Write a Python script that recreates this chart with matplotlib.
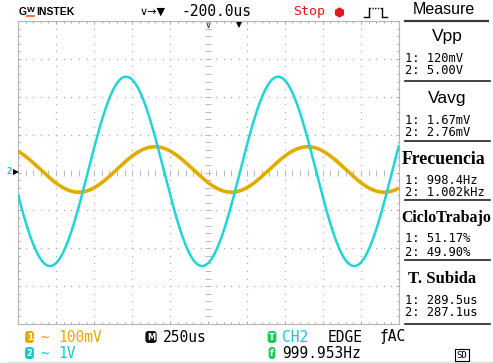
import numpy as np
import matplotlib
matplotlib.use("Agg")
import matplotlib.pyplot as plt

W, H, DPI = 493, 363, 100

# ---- scope settings ----
ch1_volts_div = 0.1        # V/div
ch2_volts_div = 1.0        # V/div
time_div_us = 250.0        # us/div
h_pos_label = "-200.0us"
trig_pos_div = 0.8         # trigger marker position (div right of centre)

# ---- measured waveforms ----
ch1_vpp = 0.120            # V
ch2_vpp = 5.00             # V
ch1_freq = 998.4           # Hz
ch2_freq = 1002.0          # Hz
ch1_peak_us = -351.0       # time of a CH1 maximum, relative to screen centre
ch2_peak_us = -541.0       # time of a CH2 maximum, relative to screen centre
ch1_offset_div = 0.08
ch2_offset_div = 0.03

# ---- measurement panel ----
meas_titles = ["Vpp", "Vavg", "Frecuencia", "CicloTrabajo", "T. Subida"]
meas_ch1 = ["120mV", "1.67mV", "998.4Hz", "51.17%", "289.5us"]
meas_ch2 = ["5.00V", "2.76mV", "1.002kHz", "49.90%", "287.1us"]

YEL = "#e2ab00"
CYN = "#1fd5d5"
CYN_TXT = "#1cc3cf"
GRN = "#22c85a"
GRID = "#ababab"
MONO = "DejaVu Sans Mono"

fig = plt.figure(figsize=(W / DPI, H / DPI), dpi=DPI, facecolor="white")

# ---------------- waveform screen ----------------
ax = fig.add_axes([18 / W, 1 - 324 / H, 381 / W, 303 / H])
ax.set_facecolor("none")
ax.set_xlim(-5, 5)
ax.set_ylim(-4, 4)
for s in ax.spines.values():
    s.set_color("#b4b4b4")
    s.set_linewidth(0.8)
ax.set_xticks(np.arange(-5, 6, 1))
ax.set_yticks(np.arange(-4, 5, 1))
ax.set_xticks(np.arange(-5, 5.01, 0.2), minor=True)
ax.set_yticks(np.arange(-4, 4.01, 0.2), minor=True)
ax.tick_params(which="both", direction="in", top=True, right=True,
               labelbottom=False, labelleft=False, color=GRID, width=0.8)
ax.tick_params(which="major", length=2.5)
ax.tick_params(which="minor", length=1.5)

steps_x = np.arange(-5, 5.01, 0.2)
steps_y = np.arange(-4, 4.01, 0.2)
for gx in range(-4, 5):
    if gx == 0:
        continue
    ax.plot(np.full_like(steps_y, gx), steps_y, ls="none", marker="s",
            ms=0.9, mew=0, color=GRID, zorder=1)
for gy in range(-3, 4):
    if gy == 0:
        continue
    ax.plot(steps_x, np.full_like(steps_x, gy), ls="none", marker="s",
            ms=0.9, mew=0, color=GRID, zorder=1)
# centre cross with graduations
ax.plot(np.zeros_like(steps_y), steps_y, ls="none", marker="_", ms=4.2,
        mew=0.7, color="#b8b8b8", zorder=1)
ax.plot(steps_x, np.zeros_like(steps_x), ls="none", marker="|", ms=4.2,
        mew=0.7, color="#b8b8b8", zorder=1)

t_div = np.linspace(-5, 5, 3000)
t_s = t_div * time_div_us * 1e-6
ch1 = (ch1_vpp / 2) * np.cos(2 * np.pi * ch1_freq * (t_s - ch1_peak_us * 1e-6))
ch2 = (ch2_vpp / 2) * np.cos(2 * np.pi * ch2_freq * (t_s - ch2_peak_us * 1e-6))
ax.plot(t_div, ch1 / ch1_volts_div + ch1_offset_div, color=YEL, lw=2.6,
        solid_capstyle="butt", zorder=3)
ax.plot(t_div, ch2 / ch2_volts_div + ch2_offset_div, color=CYN, lw=1.8,
        solid_capstyle="butt", zorder=4)
ax.set_zorder(2)

# ---------------- overlay in pixel coordinates ----------------
ov = fig.add_axes([0, 0, 1, 1])
ov.set_xlim(0, W)
ov.set_ylim(H, 0)
ov.axis("off")
ov.patch.set_alpha(0)
ov.set_zorder(3)

x0, x1 = 18, 399
px_div = (x1 - x0) / 10

# screen markers
ov.text(12, 172, "2", color=CYN_TXT, fontsize=6.5, family=MONO, ha="right",
        va="center", fontweight="bold")
ov.plot([15.5], [172], marker=">", ms=4.5, color="black", mew=0)
xc = (x0 + x1) / 2
ov.text(xc, 25, "∨", fontsize=7, ha="center", va="center", color="#333333")
ov.plot([xc + trig_pos_div * px_div], [24.5], marker="v", ms=4,
        color="black", mew=0)

# top bar
ov.text(19, 12, "G", fontsize=7.5, family="Liberation Sans", fontweight="bold",
        va="center", ha="left")
ov.text(26.5, 11, "W", fontsize=6, family="Liberation Sans", fontweight="bold",
        va="center", ha="left")
ov.plot([27, 34], [16, 16], color="#f07020", lw=1.3)
ov.text(36, 12, "INSTEK", fontsize=7.5, family="Liberation Sans",
        fontweight="bold", va="center", ha="left")
ov.text(140, 12, "∨→▼", fontsize=8, va="center", ha="left")
ov.text(182, 12, h_pos_label, fontsize=10.5, family=MONO, va="center", ha="left")
ov.text(293, 11.5, "Stop", fontsize=9.5, family=MONO, va="center", ha="left",
        color="#e01818")
ov.plot([339], [11.5], marker="h", ms=7.5, color="#e01818", mew=0)
ov.plot([364, 369, 369], [17, 17, 7.5], color="black", lw=1)
ov.plot([369, 382], [7.5, 7.5], color="black", lw=1, ls=(0, (1, 1)))
ov.plot([382, 382, 387], [7.5, 17, 17], color="black", lw=1)
ov.text(444, 10, "Measure", fontsize=11.5, family="Liberation Sans",
        va="center", ha="center")

# measurement panel
ov.plot([405, 488], [21, 21], color="#3a3a3a", lw=1.6)
title_y = [37, 99, 159, 218, 279]
sep_y = [81, 141, 200, 260, 324]
for i, ttl in enumerate(meas_titles):
    ty = title_y[i]
    if i < 2:
        ov.text(447, ty, ttl, fontsize=12.5, family="Liberation Sans",
                ha="center", va="center")
    elif i == 4:
        ov.text(442, ty, ttl, fontsize=12, family="Liberation Serif",
                fontweight="bold", ha="center", va="center")
    elif i == 3:
        ov.text(401, ty, ttl, fontsize=11.4, family="Liberation Serif",
                fontweight="bold", ha="left", va="center")
    else:
        ov.text(402, ty, ttl, fontsize=12.8, family="Liberation Serif",
                fontweight="bold", ha="left", va="center")
    ov.text(405, ty + 21, "1: " + meas_ch1[i], fontsize=8.7, family=MONO,
            ha="left", va="center")
    ov.text(405, ty + 34, "2: " + meas_ch2[i], fontsize=8.7, family=MONO,
            ha="left", va="center")
    ov.plot([405, 490], [sep_y[i], sep_y[i]], color="#202020", lw=1.2)

# bottom status bar
def badge(x, y, s, fc, tc="white"):
    ov.text(x, y, s, fontsize=6, family="DejaVu Sans", fontweight="bold",
            color=tc, ha="center", va="center",
            bbox=dict(boxstyle="round,pad=0.18,rounding_size=0.35", fc=fc,
                      ec="none"))

r1, r2 = 337, 353
badge(29.5, r1, "1", YEL)
ov.text(40, r1, "~", fontsize=10.5, family=MONO, color=YEL, ha="left", va="center")
ov.text(58, r1, "100mV", fontsize=10.5, family=MONO, color=YEL, ha="left", va="center")
badge(29.5, r2, "2", CYN_TXT)
ov.text(40, r2, "~", fontsize=10.5, family=MONO, color=CYN_TXT, ha="left", va="center")
ov.text(58, r2, "1V", fontsize=10.5, family=MONO, color=CYN_TXT, ha="left", va="center")
badge(151, r1, "M", "#111111")
ov.text(163, r1, "250us", fontsize=10.5, family=MONO, ha="left", va="center")
badge(272, r1, "T", GRN)
ov.text(282, r1, "CH2", fontsize=10.5, family=MONO, color=CYN_TXT, ha="left", va="center")
ov.text(328, r1, "EDGE", fontsize=10.5, family=MONO, ha="left", va="center")
ov.text(380, r1, "ƒAC", fontsize=10.5, family=MONO, ha="left", va="center")
badge(272, r2, "f", GRN)
ov.text(282, r2, "999.953Hz", fontsize=10.5, family=MONO, ha="left", va="center")
ov.text(462, 355, "SD", fontsize=6.5, family=MONO, ha="center", va="center",
        bbox=dict(boxstyle="square,pad=0.15", fc="white", ec="black", lw=0.8))
ov.add_patch(plt.Rectangle((8, 361), 485, 3, fc="#e6eef6", ec="none"))

fig.savefig("out.png", dpi=DPI, facecolor="white")
